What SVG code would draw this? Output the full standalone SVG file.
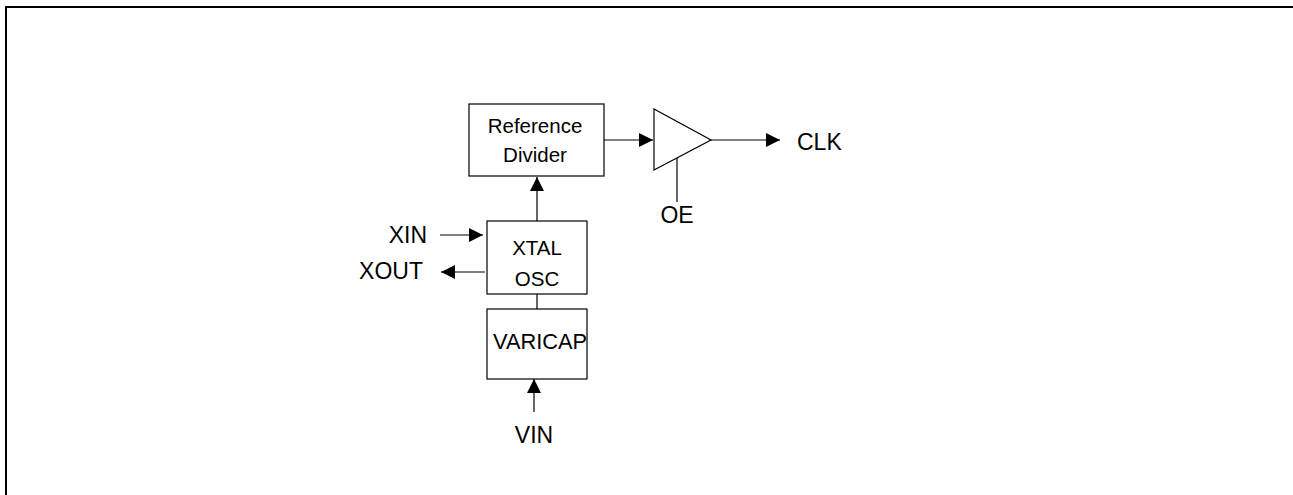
<svg xmlns="http://www.w3.org/2000/svg" width="1293" height="495" viewBox="0 0 1293 495">
<style>
.box{fill:#fff;stroke:#000;stroke-width:1.2}
.ln{fill:none;stroke:#000;stroke-width:1.2}
.t{font-family:"Liberation Sans",Arial,sans-serif;fill:#000}
.lb{font-size:23px}
.bx{font-size:20.5px}
</style>
<defs>
<marker id="ah" viewBox="0 0 14 14" refX="14" refY="7" markerWidth="14" markerHeight="14" markerUnits="userSpaceOnUse" orient="auto">
<path d="M0,0 L14,7 L0,14 Z" fill="#000"/>
</marker>
</defs>
<rect width="1293" height="495" fill="#fff"/>
<path d="M6,495 L6,7 L1293,7" fill="none" stroke="#000" stroke-width="2"/>
<g id="connectors">
<path class="ln" d="M604,140 L653,140" marker-end="url(#ah)"/>
<path class="ln" d="M711,140 L780,140" marker-end="url(#ah)"/>
<path class="ln" d="M677,158 L677,202"/>
<path class="ln" d="M537,221 L537,177" marker-end="url(#ah)"/>
<path class="ln" d="M440,235 L483,235" marker-end="url(#ah)"/>
<path class="ln" d="M485,272 L441,272" marker-end="url(#ah)"/>
<path class="ln" d="M537,294 L537,309"/>
<path class="ln" d="M534,412 L534,379" marker-end="url(#ah)"/>
</g>
<g id="refdiv">
<rect class="box" x="469" y="104" width="135" height="72"/>
<text class="t bx" x="535" y="133" text-anchor="middle">Reference</text>
<text class="t bx" x="535" y="162" text-anchor="middle">Divider</text>
</g>
<g id="buffer">
<path class="box" d="M654,109 L654,170 L711,140 Z"/>
</g>
<g id="xtal">
<rect class="box" x="487" y="221" width="100" height="73"/>
<text class="t bx" x="537" y="255" text-anchor="middle">XTAL</text>
<text class="t bx" x="537" y="286" text-anchor="middle">OSC</text>
</g>
<g id="varicap">
<rect class="box" x="487" y="309" width="100" height="70"/>
<text class="t" style="font-size:21.8px" x="493" y="349">VARICAP</text>
</g>
<g id="labels">
<text class="t lb" x="797" y="150">CLK</text>
<text class="t lb" x="677" y="223" text-anchor="middle">OE</text>
<text class="t lb" x="427" y="243" text-anchor="end">XIN</text>
<text class="t lb" x="423" y="279" text-anchor="end">XOUT</text>
<text class="t lb" x="534" y="443" text-anchor="middle">VIN</text>
</g>
</svg>
